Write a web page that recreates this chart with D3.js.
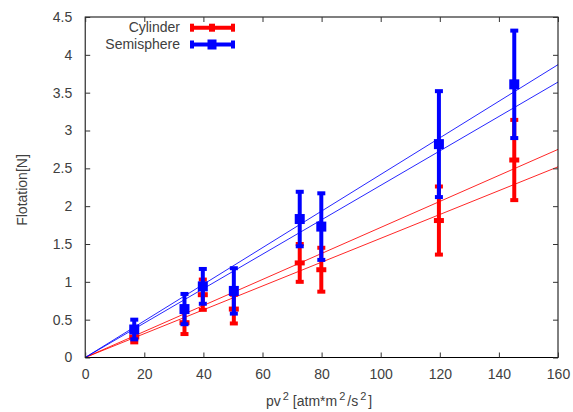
<!DOCTYPE html>
<html><head><meta charset="utf-8">
<script src="https://cdn.jsdelivr.net/npm/d3@7"></script>
<style>body{margin:0;background:#fff}svg{display:block}text{font-family:"Liberation Sans",Arial,Helvetica,sans-serif;}</style>
</head><body>
<svg id="c" width="573" height="412"></svg>
<script>
const xValues = [16.6, 33.6, 39.8, 50.3, 72.6, 79.9, 119.7, 145.2];
const cylinder = [0.27, 0.46, 0.83, 0.64, 1.25, 1.16, 1.81, 2.61];
const cylinderErr = [0.07, 0.15, 0.20, 0.19, 0.25, 0.29, 0.45, 0.53];
const semisphere = [0.37, 0.64, 0.94, 0.88, 1.83, 1.73, 2.82, 3.61];
const semisphereErr = [0.13, 0.20, 0.23, 0.30, 0.36, 0.44, 0.70, 0.71];
const cylinderFitSlopes = [2.75/160, 2.52/160];
const semisphereFitSlopes = [3.87/160, 3.64/160];
const xTicks = [0, 20, 40, 60, 80, 100, 120, 140, 160];
const yTicks = [0, 0.5, 1, 1.5, 2, 2.5, 3, 3.5, 4, 4.5];
const seriesNames = ["Cylinder", "Semisphere"];

const svg = d3.select("#c");
const L = 85.2, R = 558, T = 17, B = 357.5;
const x = d3.scaleLinear().domain([0, 160]).range([L, R]);
const y = d3.scaleLinear().domain([0, 4.5]).range([B, T]);
const textCol = "#404040";
const fs = 14;

// fit lines (clipped)
svg.append("clipPath").attr("id","clip").append("rect").attr("x",L).attr("y",T).attr("width",R-L).attr("height",B-T);
const fits = svg.append("g").attr("clip-path","url(#clip)");
const line = d3.line().x(d=>x(d[0])).y(d=>y(d[1]));
function drawFits(slopes, col){
  slopes.forEach(s=>{
    fits.append("path").datum([[0,0],[160,160*s]]).attr("d",line)
      .attr("fill","none").attr("stroke",col).attr("stroke-width",1).attr("stroke-opacity",0.85);
  });
}
drawFits(cylinderFitSlopes, "#ff0000");
drawFits(semisphereFitSlopes, "#0000ff");

function drawBars(vals, errs, col, cw, ch){
  const g = svg.append("g");
  vals.forEach((v,i)=>{
    const cx = x(xValues[i]);
    const y1 = y(v+errs[i]), y0 = y(v-errs[i]);
    g.append("line").attr("x1",cx).attr("x2",cx).attr("y1",y1).attr("y2",y0).attr("stroke",col).attr("stroke-width",4);
    [y1,y0].forEach(yy=>g.append("rect").attr("x",cx-4).attr("y",yy-2).attr("width",8).attr("height",4).attr("fill",col));
    g.append("rect").attr("x",cx-cw/2).attr("y",y(v)-ch/2).attr("width",cw).attr("height",ch).attr("fill",col);
  });
}
drawBars(cylinder, cylinderErr, "#ff0000", 10, 5);
drawBars(semisphere, semisphereErr, "#0000ff", 10, 10);

// border
svg.append("rect").attr("x",L).attr("y",T).attr("width",R-L).attr("height",B-T)
  .attr("fill","none").attr("stroke","#000").attr("stroke-width",1);

// axes
const ax = svg.append("g");
const xb = ax.append("g").attr("transform",`translate(0,${B})`)
  .call(d3.axisBottom(x).tickValues(xTicks).tickSize(-5).tickPadding(12).tickFormat(d3.format("d")));
const xt = ax.append("g").attr("transform",`translate(0,${T})`)
  .call(d3.axisTop(x).tickValues(xTicks).tickSize(-5).tickFormat(""));
const yl = ax.append("g").attr("transform",`translate(${L},0)`)
  .call(d3.axisLeft(y).tickValues(yTicks).tickSize(-5).tickPadding(13).tickFormat(d=>String(d)));
const yr = ax.append("g").attr("transform",`translate(${R},0)`)
  .call(d3.axisRight(y).tickValues(yTicks).tickSize(-5).tickFormat(""));
[xb,xt,yl,yr].forEach(g=>{
  g.select(".domain").remove();
  g.selectAll(".tick line").attr("stroke","#333");
  g.selectAll(".tick text").attr("fill",textCol).attr("font-size",fs).attr("font-family","Liberation Sans, Arial, sans-serif");
});

// axis titles
svg.append("text").attr("transform","translate(27,190) rotate(-90)").attr("text-anchor","middle")
  .attr("font-size",fs).attr("fill",textCol).text("Flotation[N]");
const xl = svg.append("text").attr("x",266).attr("y",406).attr("font-size",fs).attr("fill",textCol);
xl.append("tspan").text("pv");
xl.append("tspan").attr("dx",2).attr("dy",-6).attr("font-size",11).text("2");
xl.append("tspan").attr("dy",6).text(" [atm*m");
xl.append("tspan").attr("dx",2).attr("dy",-6).attr("font-size",11).text("2");
xl.append("tspan").attr("dx",2).attr("dy",6).text("/s");
xl.append("tspan").attr("dx",2).attr("dy",-6).attr("font-size",11).text("2");
xl.append("tspan").attr("dx",2).attr("dy",6).text("]");

// legend
const leg = svg.append("g");
const legCols = ["#ff0000","#0000ff"];
const legY = [27.7, 44.5];
seriesNames.forEach((n,i)=>{
  leg.append("text").attr("x",180).attr("y",legY[i]+4.5).attr("text-anchor","end")
    .attr("font-size",fs).attr("fill",textCol).text(n);
  const c = legCols[i], yy = legY[i];
  leg.append("line").attr("x1",192).attr("x2",233).attr("y1",yy).attr("y2",yy).attr("stroke",c).attr("stroke-width",4);
  [192,233].forEach(xx=>leg.append("rect").attr("x",xx-2).attr("y",yy-4).attr("width",4).attr("height",8).attr("fill",c));
  const w = i===0?6:9;
  leg.append("rect").attr("x",212-w/2).attr("y",yy-(i===0?4:5)).attr("width",w).attr("height",i===0?8:10).attr("fill",c);
});
</script>
</body></html>
